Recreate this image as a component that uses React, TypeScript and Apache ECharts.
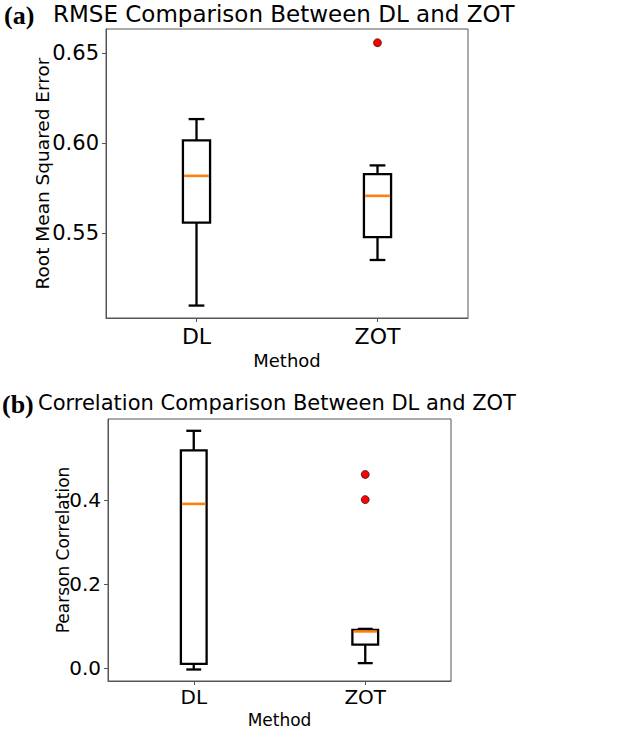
import React, { useEffect, useRef } from "react";
import * as echarts from "echarts";

const categories = ["DL", "ZOT"];
// [min, Q1, median, Q3, max]
const rmseBoxes = [
  [0.51, 0.556, 0.582, 0.6017, 0.6135],
  [0.5353, 0.548, 0.5709, 0.583, 0.5878],
];
const rmseOutliers = [["ZOT", 0.6559]];
const rmseTicks = [0.55, 0.6, 0.65];

const corrBoxes = [
  [-0.0024, 0.011, 0.3906, 0.5176, 0.564],
  [0.0127, 0.0565, 0.088, 0.0918, 0.094],
];
const corrOutliers = [
  ["ZOT", 0.4605],
  ["ZOT", 0.4007],
];
const corrTicks = [0.0, 0.2, 0.4];

const FONT = "DejaVu Sans";
const AXIS_COLOR = "#555";

function renderBox(params: any, api: any) {
  const xi = api.value(0);
  const pMin = api.coord([xi, api.value(1)]);
  const pQ1 = api.coord([xi, api.value(2)]);
  const pMed = api.coord([xi, api.value(3)]);
  const pQ3 = api.coord([xi, api.value(4)]);
  const pMax = api.coord([xi, api.value(5)]);
  const band = api.size([1, 0])[0];
  const bw = band * 0.15;
  const cw = bw * 0.58;
  const cx = pMed[0];
  const ls = { stroke: "#000", lineWidth: 2.3, fill: "none" };
  return {
    type: "group",
    children: [
      { type: "line", shape: { x1: cx, y1: pQ1[1], x2: cx, y2: pMin[1] }, style: ls },
      { type: "line", shape: { x1: cx, y1: pQ3[1], x2: cx, y2: pMax[1] }, style: ls },
      { type: "line", shape: { x1: cx - cw / 2, y1: pMin[1], x2: cx + cw / 2, y2: pMin[1] }, style: ls },
      { type: "line", shape: { x1: cx - cw / 2, y1: pMax[1], x2: cx + cw / 2, y2: pMax[1] }, style: ls },
      {
        type: "rect",
        shape: { x: cx - bw / 2, y: pQ3[1], width: bw, height: pQ1[1] - pQ3[1] },
        style: { stroke: "#000", lineWidth: 2.3, fill: "#fff" },
      },
      {
        type: "line",
        shape: { x1: cx - bw / 2 + 1.2, y1: pMed[1], x2: cx + bw / 2 - 1.2, y2: pMed[1] },
        style: { stroke: "#ff7f0e", lineWidth: 2.6 },
      },
    ],
  };
}

export default function App() {
  const ref = useRef<HTMLDivElement>(null);
  useEffect(() => {
    if (!ref.current) return;
    const chart = echarts.init(ref.current, null, { renderer: "svg" });
    const boxData = (arr: number[][]) => arr.map((b, i) => [i, ...b]);
    const axisLine = { show: true, onZero: false, lineStyle: { color: AXIS_COLOR, width: 1 } };
    const option: any = {
      animation: false,
      backgroundColor: "#fff",
      graphic: [
        {
          type: "text",
          left: 4,
          top: 2,
          style: { text: "(a)", font: "bold 26px 'Liberation Serif'", fill: "#000" },
        },
        {
          type: "text",
          left: 53,
          top: 2,
          style: { text: "RMSE Comparison Between DL and ZOT", font: `23px '${FONT}'`, fill: "#000" },
        },
        {
          type: "text",
          left: 2,
          top: 391,
          style: { text: "(b)", font: "bold 26px 'Liberation Serif'", fill: "#000" },
        },
        {
          type: "text",
          left: 38,
          top: 392,
          style: { text: "Correlation Comparison Between DL and ZOT", font: `21px '${FONT}'`, fill: "#000" },
        },
      ],
      grid: [
        { left: 106, top: 29, width: 362, height: 289, show: true, borderColor: AXIS_COLOR, borderWidth: 1, backgroundColor: "#fff" },
        { left: 108, top: 419, width: 343, height: 264, show: true, borderColor: AXIS_COLOR, borderWidth: 1, backgroundColor: "#fff" },
      ],
      xAxis: [
        {
          gridIndex: 0,
          type: "category",
          data: categories,
          boundaryGap: true,
          axisLine,
          splitLine: { show: false },
          axisTick: { show: true, alignWithLabel: true, length: 4, lineStyle: { color: AXIS_COLOR } },
          axisLabel: { fontFamily: FONT, fontSize: 22, color: "#000", margin: 7 },
          name: "Method",
          nameLocation: "middle",
          nameGap: 33,
          nameMoveOverlap: false,
          nameTextStyle: { fontFamily: FONT, fontSize: 18, color: "#000" },
        },
        {
          gridIndex: 1,
          type: "category",
          data: categories,
          boundaryGap: true,
          axisLine,
          splitLine: { show: false },
          axisTick: { show: true, alignWithLabel: true, length: 4, lineStyle: { color: AXIS_COLOR } },
          axisLabel: { fontFamily: FONT, fontSize: 20, color: "#000", margin: 6 },
          name: "Method",
          nameLocation: "middle",
          nameGap: 30,
          nameMoveOverlap: false,
          nameTextStyle: { fontFamily: FONT, fontSize: 17, color: "#000" },
        },
      ],
      yAxis: [
        {
          gridIndex: 0,
          type: "value",
          min: 0.5031,
          max: 0.6635,
          axisLine,
          splitLine: { show: false },
          axisTick: { show: true, length: 4, lineStyle: { color: AXIS_COLOR }, customValues: rmseTicks },
          axisLabel: {
            fontFamily: FONT,
            fontSize: 21,
            color: "#000",
            margin: 7,
            customValues: rmseTicks,
            formatter: (v: number) => v.toFixed(2),
          },
          name: "Root Mean Squared Error",
          nameLocation: "middle",
          nameGap: 54,
          nameMoveOverlap: false,
          nameTextStyle: { fontFamily: FONT, fontSize: 18.5, color: "#000" },
        },
        {
          gridIndex: 1,
          type: "value",
          min: -0.0297,
          max: 0.592,
          axisLine,
          splitLine: { show: false },
          axisTick: { show: true, length: 4, lineStyle: { color: AXIS_COLOR }, customValues: corrTicks },
          axisLabel: {
            fontFamily: FONT,
            fontSize: 20,
            color: "#000",
            margin: 7,
            customValues: corrTicks,
            formatter: (v: number) => v.toFixed(1),
          },
          name: "Pearson Correlation",
          nameLocation: "middle",
          nameGap: 37,
          nameMoveOverlap: false,
          nameTextStyle: { fontFamily: FONT, fontSize: 17, color: "#000" },
        },
      ],
      series: [
        {
          type: "custom",
          xAxisIndex: 0,
          yAxisIndex: 0,
          renderItem: renderBox,
          encode: { x: 0, y: [1, 2, 3, 4, 5] },
          data: boxData(rmseBoxes),
          z: 2,
        },
        {
          type: "scatter",
          xAxisIndex: 0,
          yAxisIndex: 0,
          symbol: "circle",
          symbolSize: 8,
          itemStyle: { color: "#ff0000", borderColor: "#000", borderWidth: 0.6, opacity: 1 },
          data: rmseOutliers,
          z: 3,
        },
        {
          type: "custom",
          xAxisIndex: 1,
          yAxisIndex: 1,
          renderItem: renderBox,
          encode: { x: 0, y: [1, 2, 3, 4, 5] },
          data: boxData(corrBoxes),
          z: 2,
        },
        {
          type: "scatter",
          xAxisIndex: 1,
          yAxisIndex: 1,
          symbol: "circle",
          symbolSize: 8,
          itemStyle: { color: "#ff0000", borderColor: "#000", borderWidth: 0.6, opacity: 1 },
          data: corrOutliers,
          z: 3,
        },
      ],
    };
    chart.setOption(option);
    return () => chart.dispose();
  }, []);
  return (
    <div
      ref={ref}
      style={{ position: "absolute", left: 0, top: 0, width: 620, height: 729, background: "#fff" }}
    />
  );
}
